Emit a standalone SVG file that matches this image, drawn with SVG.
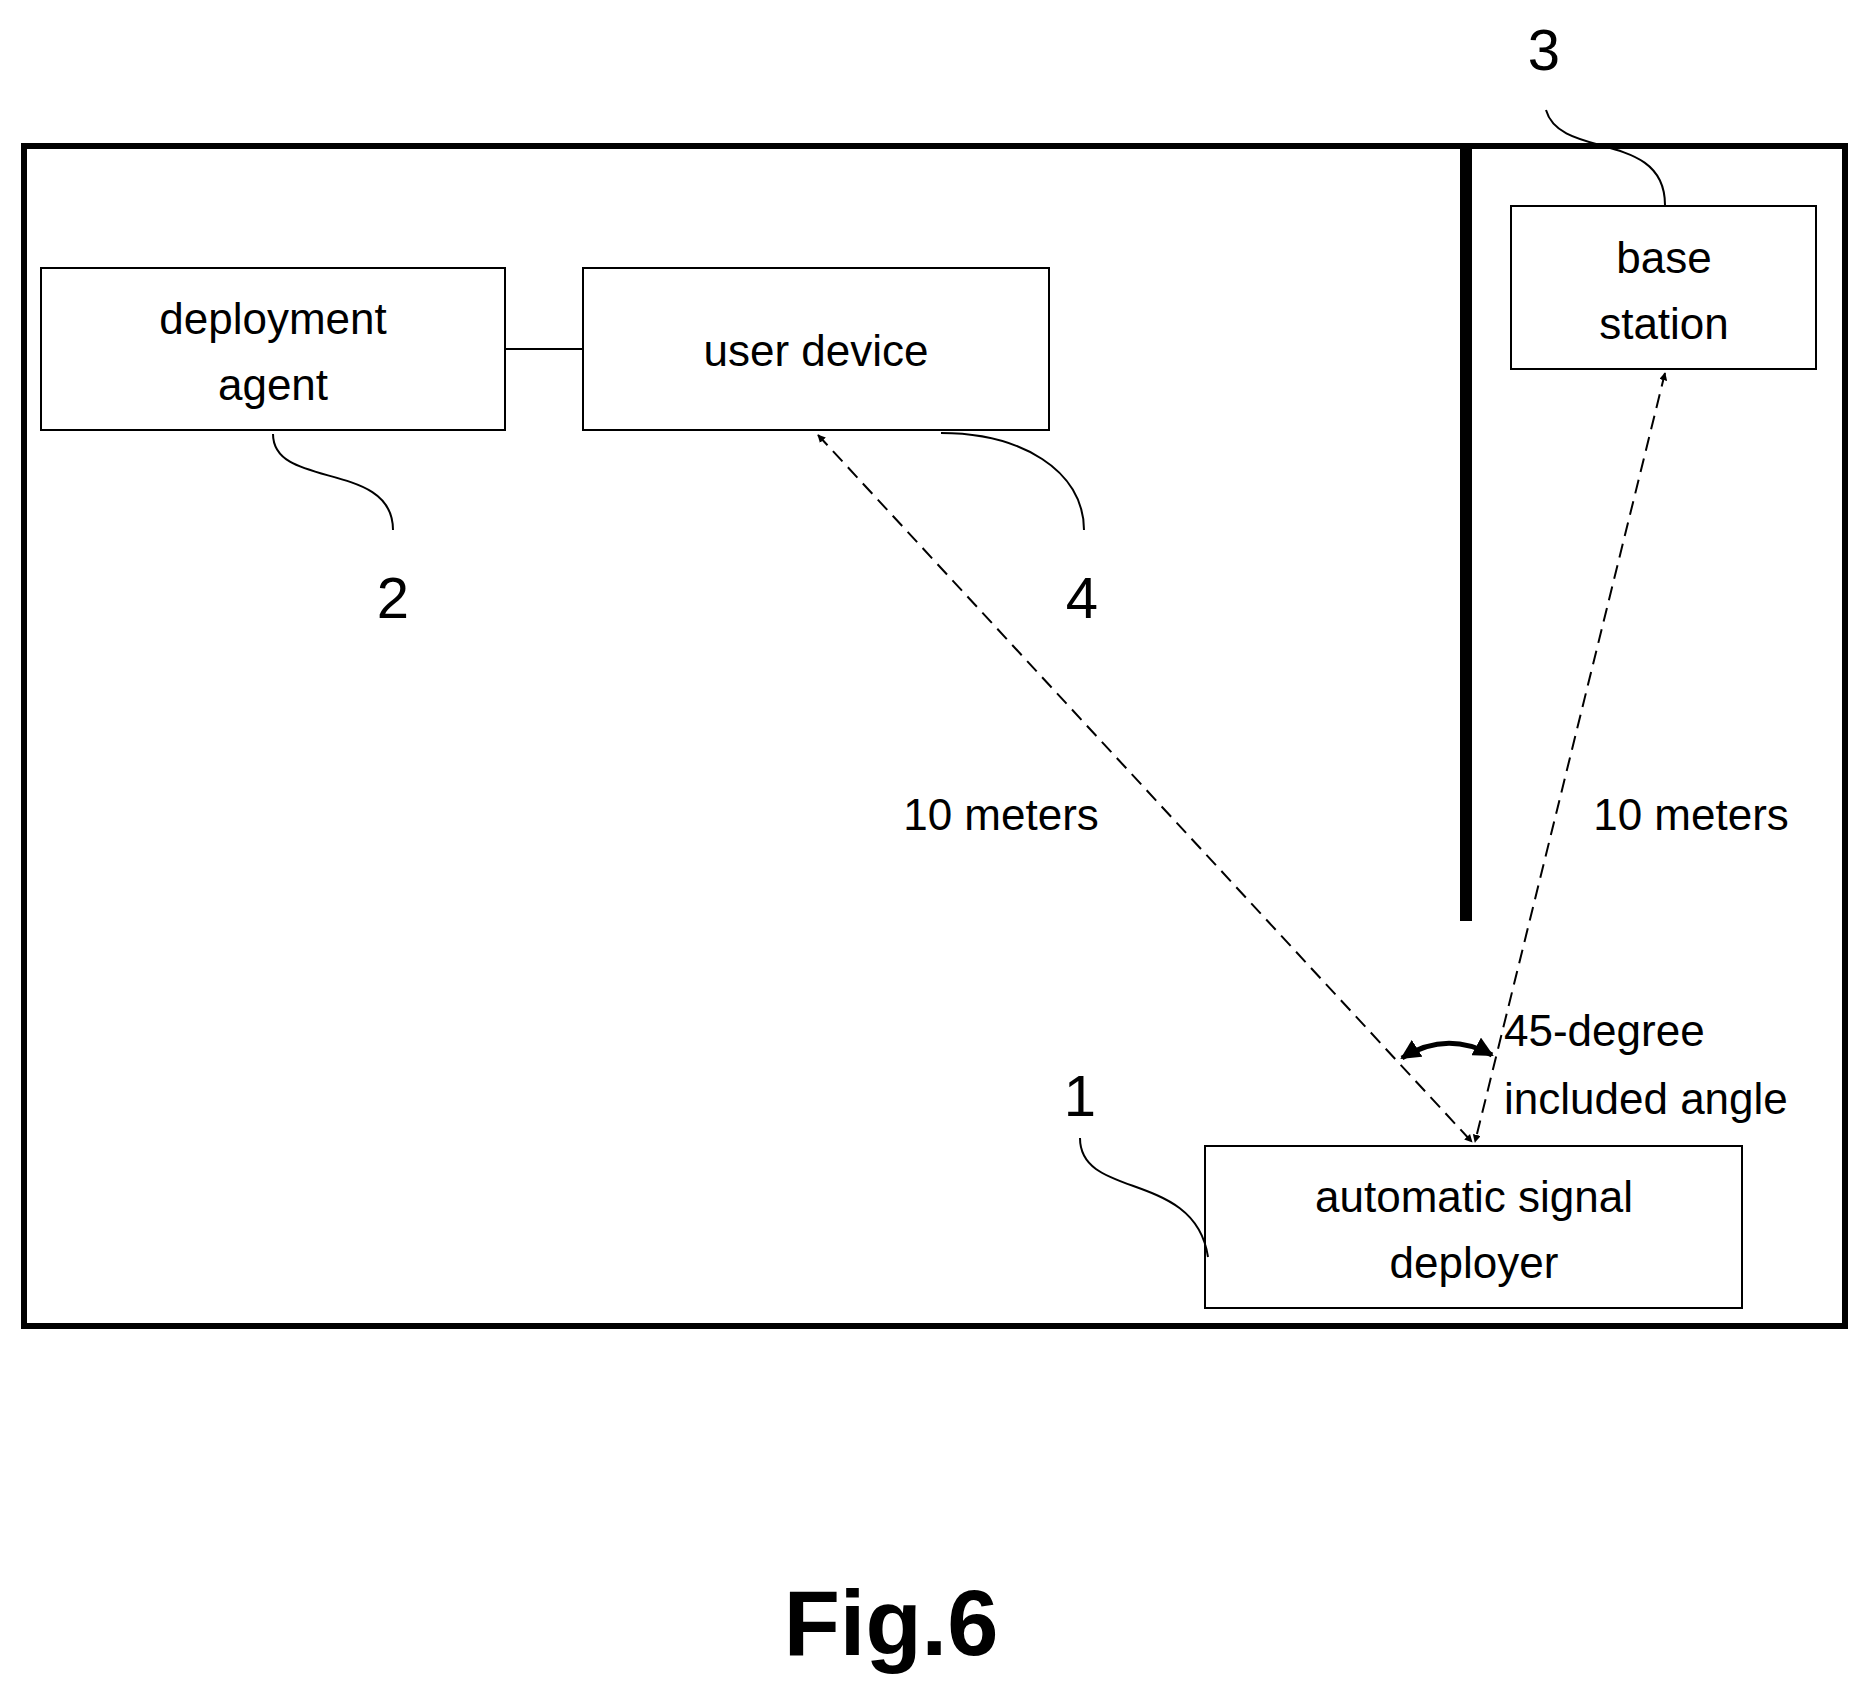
<svg xmlns="http://www.w3.org/2000/svg" width="1865" height="1692" viewBox="0 0 1865 1692">
<defs>
<style>
.box{fill:#fff;stroke:#000;stroke-width:2}
.t{font-family:"Liberation Sans",Arial,sans-serif;font-size:44px;text-anchor:middle;fill:#000}
.n{font-family:"Liberation Sans",Arial,sans-serif;font-size:58px;text-anchor:middle;fill:#000}
.dash{fill:none;stroke:#000;stroke-width:2;stroke-dasharray:14 8}
.lead{fill:none;stroke:#000;stroke-width:2}
</style>
<marker id="ah" viewBox="0 0 10 10" refX="9" refY="5" markerWidth="8" markerHeight="8" orient="auto-start-reverse" markerUnits="userSpaceOnUse"><path d="M0,0 L10,5 L0,10 z" fill="#000"/></marker>
<marker id="ab" viewBox="0 0 10 10" refX="9" refY="5" markerWidth="20" markerHeight="20" orient="auto-start-reverse" markerUnits="userSpaceOnUse"><path d="M0,0 L10,5 L0,10 z" fill="#000"/></marker>
</defs>
<rect x="24" y="146" width="1821" height="1180" fill="none" stroke="#000" stroke-width="6"/>
<rect x="1460" y="149" width="12" height="772" fill="#000"/>
<g id="agent"><rect class="box" x="41" y="268" width="464" height="162"/><text class="t" x="273" y="334">deployment</text><text class="t" x="273" y="400">agent</text></g>
<g id="user"><rect class="box" x="583" y="268" width="466" height="162"/><text class="t" x="816" y="366">user device</text></g>
<g id="base"><rect class="box" x="1511" y="206" width="305" height="163"/><text class="t" x="1664" y="273">base</text><text class="t" x="1664" y="339">station</text></g>
<g id="deployer"><rect class="box" x="1205" y="1146" width="537" height="162"/><text class="t" x="1474" y="1212">automatic signal</text><text class="t" x="1474" y="1278">deployer</text></g>
<g id="connectors">
<line class="lead" x1="505" y1="349" x2="583" y2="349"/>
<line class="dash" x1="818" y1="435" x2="1472" y2="1142" marker-start="url(#ah)" marker-end="url(#ah)"/>
<line class="dash" x1="1665" y1="373" x2="1475" y2="1142" marker-start="url(#ah)" marker-end="url(#ah)"/>
<path d="M1402 1058 Q1446 1030 1492 1055" fill="none" stroke="#000" stroke-width="5" marker-start="url(#ab)" marker-end="url(#ab)"/>
<path class="lead" d="M273 434 C273 490 393 460 393 530"/>
<path class="lead" d="M941 433 C1020 433 1084 470 1084 530"/>
<path class="lead" d="M1546 110 C1560 160 1665 130 1665 205"/>
<path class="lead" d="M1080 1138 C1080 1200 1195 1170 1208 1257"/>
</g>
<text class="t" x="1001" y="830">10 meters</text>
<text class="t" x="1691" y="830">10 meters</text>
<text class="t" x="1504" y="1046" style="text-anchor:start">45-degree</text>
<text class="t" x="1504" y="1114" style="text-anchor:start">included angle</text>
<text class="n" x="1544" y="70">3</text>
<text class="n" x="393" y="618">2</text>
<text class="n" x="1082" y="618">4</text>
<text class="n" x="1080" y="1116">1</text>
<text x="891" y="1655" style="font-family:'Liberation Sans',Arial,sans-serif;font-size:92px;font-weight:bold;text-anchor:middle">Fig.6</text>
</svg>
